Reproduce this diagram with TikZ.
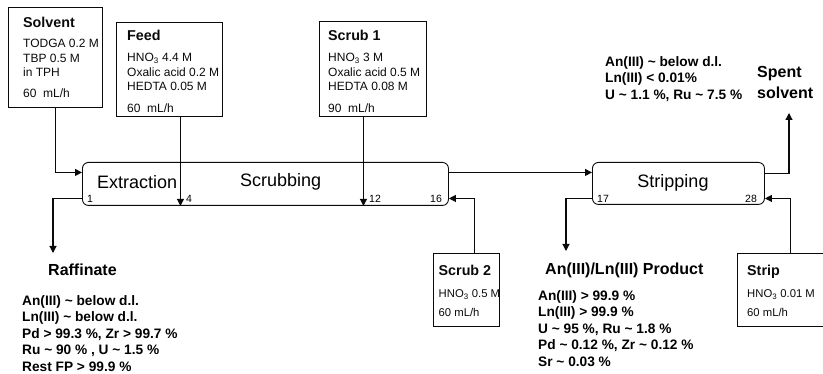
\documentclass[tikz,border=0pt]{standalone}
\usepackage{fontspec}
\setmainfont{Liberation Sans}
\usetikzlibrary{arrows.meta,positioning}
\definecolor{lineblack}{RGB}{10,10,10}
\newcommand{\boxhead}[1]{{\fontsize{14.3}{14.5}\selectfont\bfseries #1}}

\begin{document}
\begin{tikzpicture}[x=1pt, y=-1pt,
  feedbox/.style={rectangle, draw=lineblack, line width=0.9pt, anchor=north west, inner sep=0pt},
  boxtext/.style={inner sep=0pt, align=left, text=lineblack, font=\fontsize{12}{14.5}\selectfont},
  unitbox/.style={rectangle, rounded corners=6pt, draw=lineblack, line width=0.9pt, anchor=north west, inner sep=0pt},
  unitname/.style={inner sep=0pt, anchor=west, font=\fontsize{18}{20}\selectfont},
  stage/.style={inner sep=0pt, font=\fontsize{10.5}{12}\selectfont},
  title/.style={inner sep=0pt, anchor=west, align=left, font=\fontsize{16}{21}\selectfont\bfseries},
  result/.style={inner sep=0pt, anchor=north west, align=left, font=\fontsize{13.7}{16.5}\selectfont\bfseries},
  arr/.style={-{Triangle[length=7pt,width=7pt]}, draw=lineblack, line width=1.1pt}
]
\useasboundingbox (0,0) rectangle (823,374);

% feed streams
\node[feedbox, minimum width=94pt, minimum height=100pt] (solv) at (8,7) {};
\node[boxtext, below right=10pt and 15pt of solv.north west] (solvtxt)
  {\boxhead{Solvent}\\[5.5pt] TODGA 0.2 M\\ TBP 0.5 M\\ in TPH\\[6.5pt] 60~~mL/h};
\node[feedbox, minimum width=106pt, minimum height=94pt] (feed) at (116,22) {};
\node[boxtext, below right=8pt and 11pt of feed.north west] (feedtxt)
  {\boxhead{Feed}\\[6.5pt] HNO\textsubscript{3} 4.4 M\\ Oxalic acid 0.2 M\\ HEDTA 0.05 M\\[7.5pt] 60~~mL/h};
\node[feedbox, minimum width=107pt, minimum height=95pt] (scr1) at (319,21) {};
\node[boxtext, below right=9pt and 9pt of scr1.north west] (scr1txt)
  {\boxhead{Scrub 1}\\[6.5pt] HNO\textsubscript{3} 3 M\\ Oxalic acid 0.5 M\\ HEDTA 0.08 M\\[7.5pt] 90~~mL/h};
\node[feedbox, minimum width=66pt, minimum height=73pt] (scr2) at (433,253) {};
\node[boxtext, font=\fontsize{11.3}{14}\selectfont, below right=12pt and 5.5pt of scr2.north west] (scr2txt)
  {\boxhead{Scrub 2}\\[8pt] HNO\textsubscript{3} 0.5 M\\[5pt] 60 mL/h};
\node[feedbox, minimum width=90pt, minimum height=73pt] (stripfd) at (737,253) {};
\node[boxtext, font=\fontsize{11.3}{14}\selectfont, below right=12pt and 10pt of stripfd.north west] (stripfdtxt)
  {\boxhead{Strip}\\[8pt] HNO\textsubscript{3} 0.01 M\\[5pt] 60 mL/h};

% contactors
\node[unitbox, minimum width=366pt, minimum height=43pt] (sepa) at (82,162) {};
\node[unitname] (extr) at (97,182) {Extraction};
\node[unitname] (scrb) at (240,182) {Scrubbing};
\node[unitbox, minimum width=172pt, minimum height=42pt] (strp) at (592,162) {};
\node[unitname, anchor=center] (strpname) at (673,183) {Stripping};

\node[stage] (st1) at (90,199) {1};
\node[stage] (st4) at (189,199) {4};
\node[stage] (st12) at (375,199) {12};
\node[stage] (st16) at (436,199) {16};
\node[stage] (st17) at (603,199) {17};
\node[stage] (st28) at (751,199) {28};

% outlets
\coordinate (raffend) at (53,253);
\coordinate (prodend) at (566,251);
\coordinate (spentend) at (789,113);

\draw[arr] (solv.south) |- ([yshift=11.5pt]sepa.west);
\draw[arr] ([xshift=11pt]feed.south) -- ([xshift=11pt]feed.south |- sepa.south);
\draw[arr] ([xshift=-9.5pt]scr1.south) -- ([xshift=-9.5pt]scr1.south |- sepa.south);
\draw[arr] ([xshift=8pt]scr2.north) |- ([yshift=-14.5pt]sepa.east);
\draw[arr] ([yshift=-14.5pt]sepa.west) -| (raffend);
\draw[arr] ([yshift=11.5pt]sepa.east) -- ([yshift=11pt]strp.west);
\draw[arr] ([yshift=-15pt]strp.west) -| (prodend);
\draw[arr] ([xshift=8pt]stripfd.north) |- ([yshift=-15pt]strp.east);
\draw[arr] ([yshift=10pt]strp.east) -| (spentend);

% product compositions
\node[title] (spent) at (757,82) {Spent\\solvent};
\node[result] (spentres) at (605,56)
  {An(III) \textasciitilde{} below d.l.\\ Ln(III) < 0.01\%\\ U \textasciitilde{} 1.1 \%, Ru \textasciitilde{} 7.5 \%};
\node[title] (raff) at (48,270) {Raffinate};
\node[result] (raffres) at (22,295)
  {An(III) \textasciitilde{} below d.l.\\ Ln(III) \textasciitilde{} below d.l.\\ Pd > 99.3 \%, Zr > 99.7 \%\\
   Ru \textasciitilde{} 90 \% , U \textasciitilde{} 1.5 \%\\ Rest FP > 99.9 \%};
\node[title] (prod) at (545,270) {An(III)/Ln(III) Product};
\node[result] (prodres) at (538,290)
  {An(III) > 99.9 \%\\ Ln(III) > 99.9 \%\\ U \textasciitilde{} 95 \%, Ru \textasciitilde{} 1.8 \%\\
   Pd \textasciitilde{} 0.12 \%, Zr \textasciitilde{} 0.12 \%\\ Sr \textasciitilde{} 0.03 \%};
\end{tikzpicture}
\end{document}
